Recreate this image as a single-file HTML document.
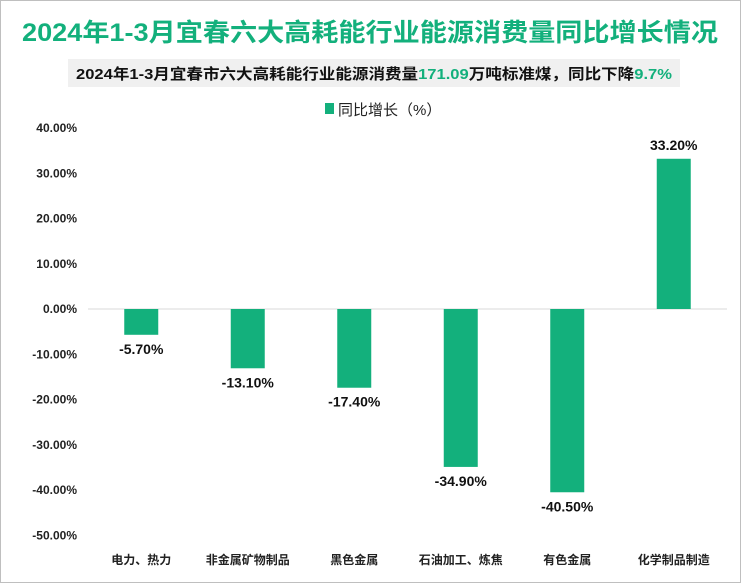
<!DOCTYPE html>
<html><head><meta charset="utf-8"><style>
html,body{margin:0;padding:0;background:#fff;}
svg{display:block;font-family:"Liberation Sans","Noto Sans CJK SC",sans-serif;}
</style></head><body>
<svg id="c" width="741" height="583" xmlns="http://www.w3.org/2000/svg">
<rect x="0.5" y="0.5" width="740" height="582" fill="#fff" stroke="#bfbfbf"/>
<text x="370" y="41" text-anchor="middle" font-size="25" font-weight="bold" fill="#13b07c" textLength="696" lengthAdjust="spacingAndGlyphs">2024年1-3月宜春六大高耗能行业能源消费量同比增长情况</text>
<rect x="68" y="59" width="612" height="28" fill="#f0f0f0"/>
<text x="374" y="79" text-anchor="middle" font-size="15" font-weight="bold" fill="#111" textLength="596" lengthAdjust="spacingAndGlyphs">2024年1-3月宜春市六大高耗能行业能源消费量<tspan fill="#13b07c">171.09</tspan>万吨标准煤，同比下降<tspan fill="#13b07c">9.7%</tspan></text>
<rect x="325" y="103" width="9" height="11" fill="#13b07c"/>
<text x="338" y="115" font-size="15" fill="#222">同比增长（%）</text>
<g id="axis"></g><g id="bars"></g>
</svg>
<script>
const categories=["电力、热力","非金属矿物制品","黑色金属","石油加工、炼焦","有色金属","化学制品制造"];
const values=[-5.7,-13.1,-17.4,-34.9,-40.5,33.2];
const ticks=[40,30,20,10,0,-10,-20,-30,-40,-50];
const NS="http://www.w3.org/2000/svg";
const y=v=>309-v*4.525;
const x0=88,step=106.5;
const cx=i=>x0+step*(i+0.5);
const ax=document.getElementById('axis'),bg=document.getElementById('bars');
function mk(tag,attrs,parent,txt){const e=document.createElementNS(NS,tag);for(const k in attrs)e.setAttribute(k,attrs[k]);if(txt!==undefined)e.textContent=txt;parent.appendChild(e);return e;}
ticks.forEach(t=>{
  const e=mk('text',{x:77,y:y(t)+4,'text-anchor':'end','font-size':12,'font-weight':'bold',fill:'#222'},ax,t.toFixed(2)+'%');
  
  
});
const zl=mk('line',{x1:x0,x2:x0+step*6,y1:y(0),y2:y(0),stroke:'#d9d9d9'},ax);


values.forEach((v,i)=>{
  const top=Math.min(y(v),y(0)),h=Math.abs(y(v)-y(0));
  const r=mk('rect',{x:cx(i)-17,y:top,width:34,height:h,fill:'#13b07c'},bg);
  
  
  const ly=v>=0?y(v)-9:y(v)+19;
  const l=mk('text',{x:cx(i),y:ly,'text-anchor':'middle','font-size':14,'font-weight':'bold',fill:'#111'},bg,v.toFixed(2)+'%');
  
  
  const c=mk('text',{x:cx(i),y:564,'text-anchor':'middle','font-size':12,'font-weight':'bold',fill:'#222'},bg,categories[i]);
  
  
});
</script>
</body></html>
